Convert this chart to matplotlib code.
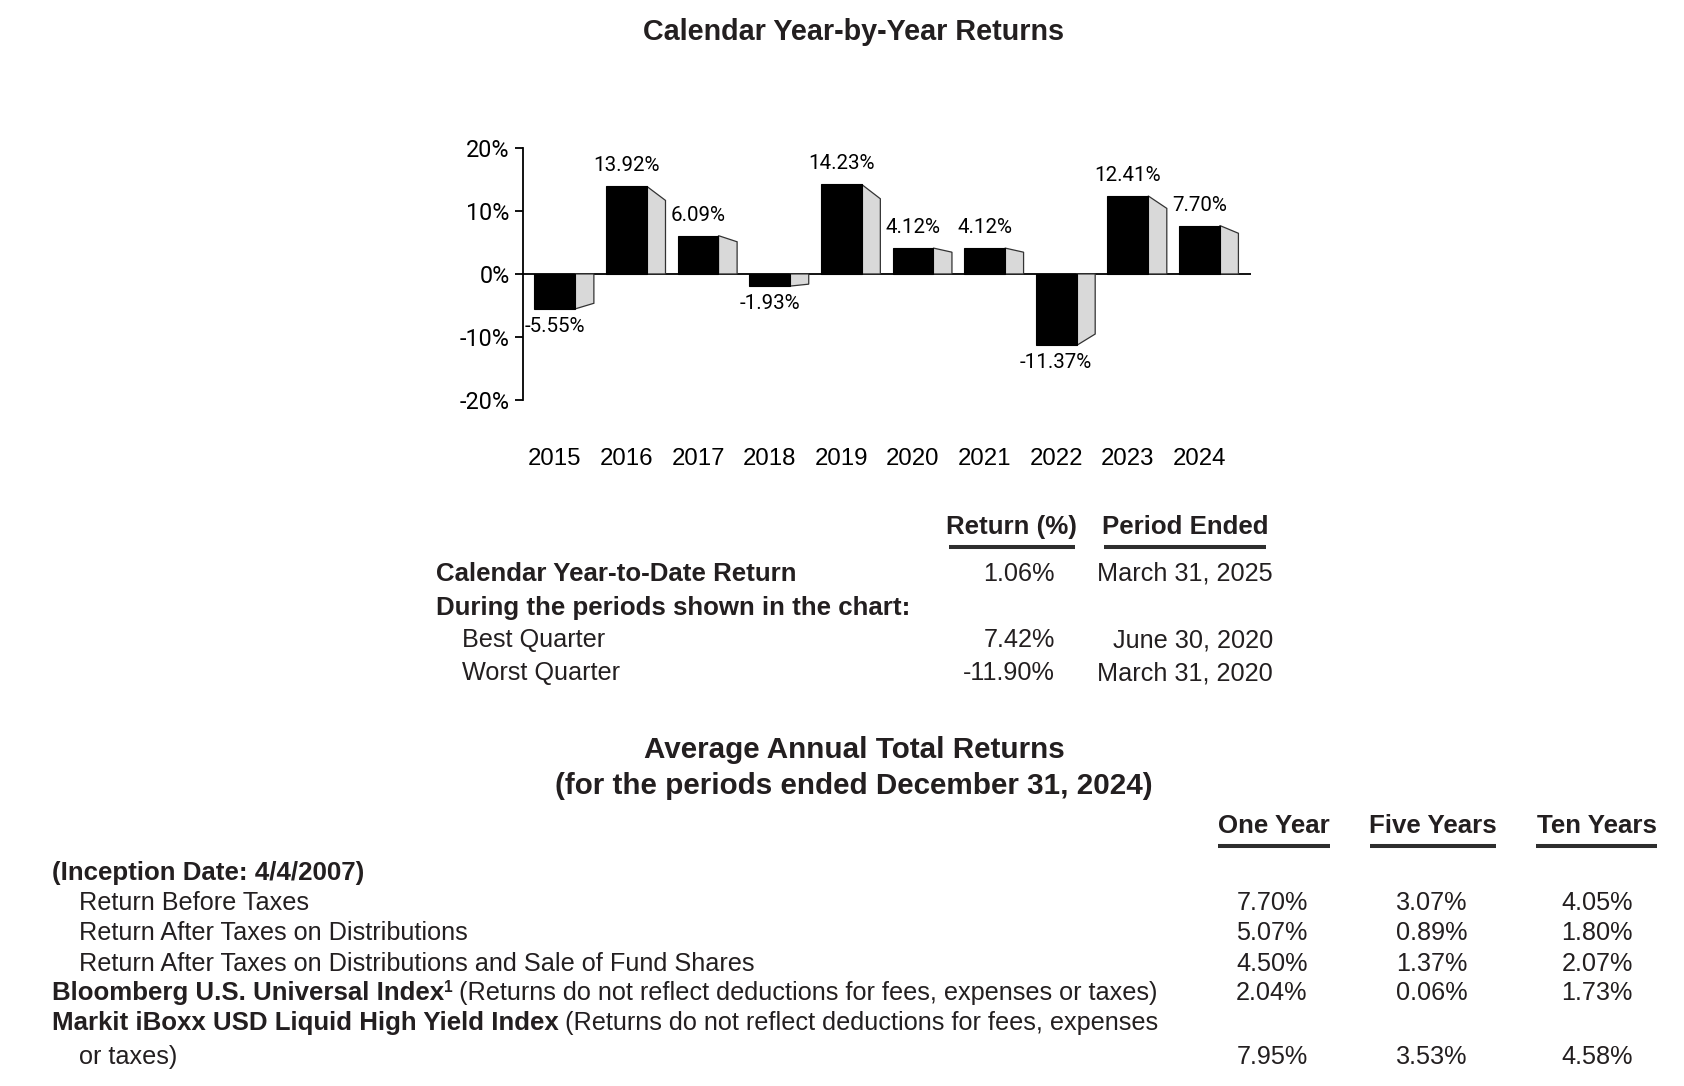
import matplotlib
matplotlib.use('Agg')
import matplotlib.pyplot as plt
from matplotlib.patches import Polygon
from matplotlib.lines import Line2D

# ---------------- data ----------------
years = ['2015', '2016', '2017', '2018', '2019', '2020', '2021', '2022', '2023', '2024']
returns = [-5.55, 13.92, 6.09, -1.93, 14.23, 4.12, 4.12, -11.37, 12.41, 7.70]
y_ticks = [-20, -10, 0, 10, 20]
y_tick_labels = ['-20%', '-10%', '0%', '10%', '20%']

ytd_header = ['Return (%)', 'Period Ended']
ytd_label = 'Calendar Year-to-Date Return'
ytd_value = '1.06%'
ytd_date = 'March 31, 2025'
during_label = 'During the periods shown in the chart:'
quarter_labels = ['Best Quarter', 'Worst Quarter']
quarter_values = ['7.42%', '-11.90%']
quarter_dates = ['June 30, 2020', 'March 31, 2020']

perf_title = ['Average Annual Total Returns', '(for the periods ended December 31, 2024)']
perf_columns = ['One Year', 'Five Years', 'Ten Years']
inception = '(Inception Date: 4/4/2007)'
fund_rows = ['Return Before Taxes', 'Return After Taxes on Distributions',
             'Return After Taxes on Distributions and Sale of Fund Shares']
one_year = ['7.70%', '5.07%', '4.50%', '2.04%', '7.95%']
five_years = ['3.07%', '0.89%', '1.37%', '0.06%', '3.53%']
ten_years = ['4.05%', '1.80%', '2.07%', '1.73%', '4.58%']

# ---------------- setup ----------------
W, H = 1684, 1086
K = 0.9944  # layout scale
BODY = ['Liberation Sans', 'DejaVu Sans']
CHART = ['Roboto', 'DejaVu Sans']
plt.rcParams['font.family'] = BODY
TXT = '#231f20'
fig = plt.figure(figsize=(W / 100, H / 100), dpi=100)
fig.patch.set_facecolor('white')
renderer = fig.canvas.get_renderer()


def fit(s, target, weight='normal', family=BODY, base=16.0):
    t = fig.text(0, 0, s, fontsize=base, fontweight=weight, family=family)
    w = t.get_window_extent(renderer).width
    t.remove()
    return base * target * K / w


REG = fit('Return After Taxes on Distributions and Sale of Fund Shares', 680)
BOLD = fit('Calendar Year-to-Date Return', 362, 'bold')
TITLE = fit('Calendar Year-by-Year Returns', 424, 'bold')
SUB = fit('(for the periods ended December 31, 2024)', 601, 'bold')


def ftxt(x, y, s, size=16, weight='normal', ha='left', family=BODY):
    return fig.text(x * K / W, 1 - y * K / H, s, fontsize=size, fontweight=weight,
                    ha=ha, va='baseline', color=TXT, family=family)


def runs(x, y, parts):
    xp = x * K
    for s, size, weight, dy in parts:
        t = fig.text(xp / W, 1 - (y - dy) * K / H, s, fontsize=size, fontweight=weight,
                     ha='left', va='baseline', color=TXT)
        xp = t.get_window_extent(renderer).x1


def hline(x0, x1, y, lw=2.9):
    fig.add_artist(Line2D([x0 * K / W, x1 * K / W], [1 - y * K / H, 1 - y * K / H],
                          transform=fig.transFigure, lw=lw, color='#2e2e2e',
                          solid_capstyle='butt'))


# ---------------- chart ----------------
ftxt(858, 40, 'Calendar Year-by-Year Returns', size=TITLE, weight='bold', ha='center')

ax_l, ax_r, ax_t, ax_b = 526 * K, 1258 * K, 149 * K, 402 * K
ax = fig.add_axes([ax_l / W, 1 - ax_b / H, (ax_r - ax_l) / W, (ax_b - ax_t) / H])
ax.set_ylim(-20, 20)
ax.set_xlim(-0.444, 9.72)
for s in ['top', 'right', 'bottom']:
    ax.spines[s].set_visible(False)
ax.spines['left'].set_linewidth(1.3)
ax.spines['left'].set_color('black')
ax.set_yticks(y_ticks)
ax.set_yticklabels(y_tick_labels, family=CHART)
ax.tick_params(axis='y', direction='out', length=6, width=1.3, pad=3.5,
               labelsize=16.8, labelcolor='black')
xs = list(range(len(years)))
ax.set_xticks(xs)
ax.set_xticklabels(years, family=BODY)
ax.tick_params(axis='x', length=0, pad=35, labelsize=17.3, labelcolor='black')
ax.axhline(0, color='black', lw=1.3, zorder=1)

front_w = 0.57
side_w = 0.26
shrink = 0.84
ax.bar(xs, returns, width=front_w, color='black', edgecolor='black', lw=0.8, zorder=3)
for x, v in zip(xs, returns):
    xr = x + front_w / 2
    poly = Polygon([(xr, 0), (xr, v), (xr + side_w, v * shrink), (xr + side_w, 0)],
                   closed=True, facecolor='#d9d9d9', edgecolor='#333333', lw=0.9, zorder=2)
    ax.add_patch(poly)
    off = 20.5 if v >= 0 else -17.5
    ax.annotate(f'{v:.2f}%', xy=(x, v), xytext=(0, off), textcoords='offset pixels',
                ha='center', va='center', fontsize=14.8, color='black', family=CHART)

# ---------------- YTD / quarter table ----------------
ret_l, ret_r = 954, 1081
per_l, per_r = 1110, 1273
ftxt((ret_l + ret_r) / 2, 537, ytd_header[0], size=BOLD, weight='bold', ha='center')
ftxt((per_l + per_r) / 2, 537, ytd_header[1], size=BOLD, weight='bold', ha='center')
hline(ret_l, ret_r, 550)
hline(per_l, per_r, 550)

val_r = 1061
date_r = 1280
ftxt(438, 584, ytd_label, size=BOLD, weight='bold')
ftxt(val_r, 584, ytd_value, size=REG, ha='right')
ftxt(date_r, 584, ytd_date, size=REG, ha='right')
ftxt(438, 618, during_label, size=BOLD, weight='bold')
for yb, lab, val, dt in zip([651, 684], quarter_labels, quarter_values, quarter_dates):
    ftxt(465, yb, lab, size=REG)
    ftxt(val_r, yb, val, size=REG, ha='right')
    ftxt(date_r, yb, dt, size=REG, ha='right')

# ---------------- average annual total returns ----------------
ftxt(859, 762, perf_title[0], size=SUB, weight='bold', ha='center')
ftxt(859, 798, perf_title[1], size=SUB, weight='bold', ha='center')

col_spans = [(1225, 1337), (1378, 1504), (1545, 1666)]
val_rights = [1315, 1476, 1642]
for (c0, c1), name in zip(col_spans, perf_columns):
    ftxt((c0 + c1) / 2, 838, name, size=BOLD, weight='bold', ha='center')
    hline(c0, c1, 851)

ftxt(52, 885, inception, size=BOLD, weight='bold')
row_base = [915, 945, 976, 1006, 1070]
for yb, lab in zip(row_base[:3], fund_rows):
    ftxt(79, yb, lab, size=REG)

runs(52, 1006, [('Bloomberg U.S. Universal Index', BOLD, 'bold', 0),
                ('1', BOLD * 0.6, 'bold', 8),
                (' (Returns do not reflect deductions for fees, expenses or taxes)', REG, 'normal', 0)])
runs(52, 1036, [('Markit iBoxx USD Liquid High Yield Index', BOLD, 'bold', 0),
                (' (Returns do not reflect deductions for fees, expenses', REG, 'normal', 0)])
ftxt(79, 1070, 'or taxes)', size=REG)

for yb, a, b, c in zip(row_base, one_year, five_years, ten_years):
    for xr, s in zip(val_rights, (a, b, c)):
        ftxt(xr, yb, s, size=REG, ha='right')

fig.savefig('out.png', dpi=100, facecolor='white')
